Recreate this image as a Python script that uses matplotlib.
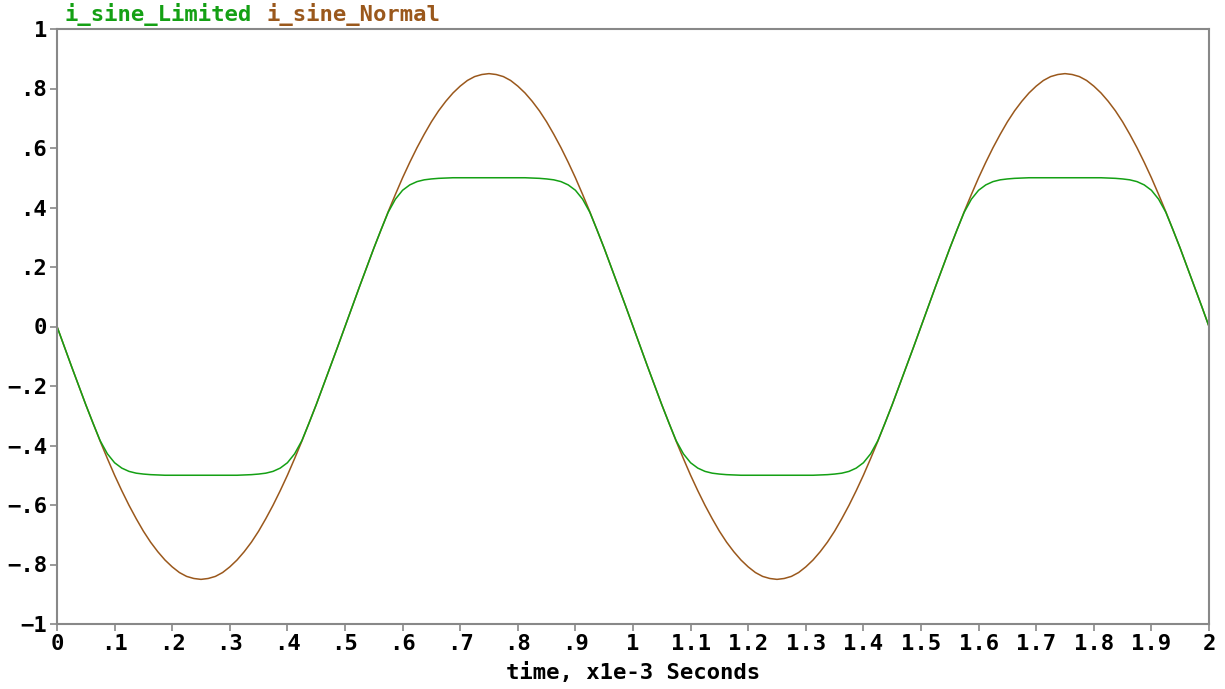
import matplotlib
matplotlib.use("Agg")
import matplotlib.pyplot as plt
from matplotlib.ticker import FuncFormatter

# time axis, x1e-3 seconds (step 0.0125)
t = [i * 0.0125 for i in range(161)]

# i_sine_Normal
i_normal = [
    0, -.067, -.133, -.198, -.263, -.325, -.386, -.444, -.500, -.552, -.601,
    -.646, -.688, -.725, -.757, -.785, -.808, -.827, -.840, -.847, -.850,
    -.847, -.840, -.827, -.808, -.785, -.757, -.725, -.688, -.646, -.601,
    -.552, -.500, -.444, -.386, -.325, -.263, -.198, -.133, -.067,
    0, .067, .133, .198, .263, .325, .386, .444, .500, .552, .601,
    .646, .688, .725, .757, .785, .808, .827, .840, .847, .850,
    .847, .840, .827, .808, .785, .757, .725, .688, .646, .601,
    .552, .500, .444, .386, .325, .263, .198, .133, .067,
    0, -.067, -.133, -.198, -.263, -.325, -.386, -.444, -.500, -.552, -.601,
    -.646, -.688, -.725, -.757, -.785, -.808, -.827, -.840, -.847, -.850,
    -.847, -.840, -.827, -.808, -.785, -.757, -.725, -.688, -.646, -.601,
    -.552, -.500, -.444, -.386, -.325, -.263, -.198, -.133, -.067,
    0, .067, .133, .198, .263, .325, .386, .444, .500, .552, .601,
    .646, .688, .725, .757, .785, .808, .827, .840, .847, .850,
    .847, .840, .827, .808, .785, .757, .725, .688, .646, .601,
    .552, .500, .444, .386, .325, .263, .198, .133, .067,
    0,
]

# i_sine_Limited
i_limited = [
    0, -.067, -.133, -.198, -.263, -.325, -.384, -.428, -.458, -.476, -.487,
    -.493, -.496, -.498, -.499, -.500, -.500, -.500, -.500, -.500, -.500,
    -.500, -.500, -.500, -.500, -.500, -.499, -.498, -.496, -.493, -.487,
    -.476, -.458, -.428, -.384, -.325, -.263, -.198, -.133, -.067,
    0, .067, .133, .198, .263, .325, .384, .428, .458, .476, .487,
    .493, .496, .498, .499, .500, .500, .500, .500, .500, .500,
    .500, .500, .500, .500, .500, .499, .498, .496, .493, .487,
    .476, .458, .428, .384, .325, .263, .198, .133, .067,
    0, -.067, -.133, -.198, -.263, -.325, -.384, -.428, -.458, -.476, -.487,
    -.493, -.496, -.498, -.499, -.500, -.500, -.500, -.500, -.500, -.500,
    -.500, -.500, -.500, -.500, -.500, -.499, -.498, -.496, -.493, -.487,
    -.476, -.458, -.428, -.384, -.325, -.263, -.198, -.133, -.067,
    0, .067, .133, .198, .263, .325, .384, .428, .458, .476, .487,
    .493, .496, .498, .499, .500, .500, .500, .500, .500, .500,
    .500, .500, .500, .500, .500, .499, .498, .496, .493, .487,
    .476, .458, .428, .384, .325, .263, .198, .133, .067,
    0,
]

x_ticks = [i / 10 for i in range(21)]
y_ticks = [-1, -.8, -.6, -.4, -.2, 0, .2, .4, .6, .8, 1]

green = "#14a014"
brown = "#9a581c"
font = {"family": "DejaVu Sans Mono", "weight": "bold", "size": 16}

fig = plt.figure(figsize=(12.25, 6.89), dpi=100)
ax = fig.add_axes([57 / 1225, 1 - 624 / 689, (1209 - 57) / 1225, (624 - 29) / 689])

ax.plot(t, i_normal, color=brown, lw=1.1)
ax.plot(t, i_limited, color=green, lw=1.1)

ax.set_xlim(0, 2)
ax.set_ylim(-1, 1)

def short(v, pos):
    s = "%g" % round(v, 2)
    s = s.replace("0.", ".")
    return s.replace("-", "\u2212")

ax.set_xticks(x_ticks)
ax.set_yticks(y_ticks)
ax.xaxis.set_major_formatter(FuncFormatter(short))
ax.yaxis.set_major_formatter(FuncFormatter(short))
ax.tick_params(direction="out", length=5, width=1.2, color="#888888", pad=2)
for lab in ax.get_xticklabels() + ax.get_yticklabels():
    lab.set_fontfamily(font["family"])
    lab.set_fontweight("bold")
    lab.set_fontsize(16)
for sp in ax.spines.values():
    sp.set_color("#888888")
    sp.set_linewidth(1.5)

ax.set_xlabel("time, x1e-3 Seconds", fontdict=font, labelpad=6)

# legend as coloured title text
fig.text(65 / 1225, 1 - 15 / 689, "i_sine_Limited", color=green, va="center", ha="left", **font)
fig.text(267 / 1225, 1 - 15 / 689, "i_sine_Normal", color=brown, va="center", ha="left", **font)

fig.savefig("out.png", dpi=100)
